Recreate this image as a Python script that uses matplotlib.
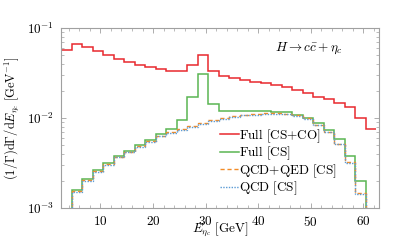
import numpy as np
import matplotlib
matplotlib.use('Agg')
import matplotlib.pyplot as plt
from matplotlib.ticker import MultipleLocator, FixedLocator

plt.rcParams['mathtext.fontset'] = 'cm'
plt.rcParams['font.family'] = 'serif'
plt.rcParams['font.serif'] = ['cmr10', 'DejaVu Serif']
plt.rcParams['axes.formatter.use_mathtext'] = True

# bin edges (GeV)
edges_full = np.arange(2.5, 62.6, 2.0)
edges_cs = np.arange(4.5, 60.6, 2.0)

# Full [CS+CO]
full_csco = [0.0568, 0.0674, 0.0618, 0.0553, 0.0508, 0.0458, 0.0420, 0.0392,
             0.0370, 0.0351, 0.0337, 0.0331, 0.0386, 0.0508, 0.0334, 0.0293,
             0.0278, 0.0264, 0.0251, 0.0248, 0.0234, 0.0219, 0.0206, 0.0190,
             0.0173, 0.0164, 0.0146, 0.0132, 0.0101, 0.00757]

# Full [CS]
full_cs = [0.00158, 0.00209, 0.00266, 0.00317, 0.00381, 0.00434, 0.00499,
           0.00575, 0.00665, 0.00757, 0.00962, 0.0170, 0.0312, 0.0144,
           0.0121, 0.0120, 0.0120, 0.0121, 0.0120, 0.0118, 0.0116, 0.0109,
           0.0101, 0.0088, 0.00745, 0.00582, 0.00381, 0.00200]

# QCD+QED [CS]
qcd_qed = [0.00155, 0.00205, 0.00259, 0.00310, 0.00372, 0.00423, 0.00487,
           0.00553, 0.00638, 0.00694, 0.00757, 0.00810, 0.00875, 0.00955,
           0.01005, 0.0105, 0.0109, 0.0111, 0.0113, 0.0114, 0.0112, 0.0107,
           0.0099, 0.00846, 0.00706, 0.00519, 0.00327, 0.00148]

# QCD [CS]
qcd = [0.00152, 0.00201, 0.00254, 0.00304, 0.00365, 0.00415, 0.00478,
       0.00542, 0.00625, 0.00680, 0.00742, 0.00794, 0.00858, 0.00936,
       0.00985, 0.0103, 0.0107, 0.0109, 0.0111, 0.0112, 0.0110, 0.0105,
       0.0097, 0.00829, 0.00692, 0.00509, 0.00320, 0.00145]

fig = plt.figure(figsize=(3.99, 2.40), dpi=100)
ax = fig.add_axes([0.153, 0.133, 0.797, 0.75])

ax.stairs(full_csco, edges_full, baseline=None, color='#e8282e', lw=1.1,
          label=r'$\mathrm{Full\ [CS{+}CO]}$')
ax.stairs(full_cs, edges_cs, baseline=1e-5, color='#5ab552', lw=1.1, label=r'$\mathrm{Full\ [CS]}$')
ax.stairs(qcd_qed, edges_cs, baseline=1e-5, color='#f28c28', lw=1.0, ls=(0, (3, 2)),
          label=r'$\mathrm{QCD{+}QED\ [CS]}$')
ax.stairs(qcd, edges_cs, baseline=1e-5, color='#5b9bd5', lw=1.0, ls=(0, (1, 1)),
          label=r'$\mathrm{QCD\ [CS]}$')

ax.set_yscale('log')
ax.set_xlim(2.5, 63)
ax.set_ylim(1e-3, 1e-1)

ax.xaxis.set_major_locator(FixedLocator([10, 20, 30, 40, 50, 60]))
ax.xaxis.set_minor_locator(MultipleLocator(2))
ax.set_xticklabels([r'$10$', r'$20$', r'$30$', r'$40$', r'$50$', r'$60$'])

for s in ax.spines.values():
    s.set_color('#a0a0a0')
    s.set_linewidth(0.8)
ax.tick_params(which='both', direction='in', top=True, right=True, color='#a0a0a0',
               labelsize=9.5)
ax.tick_params(which='major', length=3.5, width=0.6)
ax.tick_params(which='minor', length=2, width=0.5)
ax.tick_params(axis='x', pad=5)
ax.tick_params(axis='y', pad=5)

ax.set_xlabel(r'$E_{\eta_c}\ [\mathrm{GeV}]$', fontsize=9.5, labelpad=-6)
ax.set_ylabel(r'$(1/\Gamma)\mathrm{d}\Gamma/\mathrm{d}E_{\eta_c}\ [\mathrm{GeV}^{-1}]$',
              fontsize=9, labelpad=4)

ax.text(0.672, 0.885, r'$H \to c\bar{c} + \eta_c$', transform=ax.transAxes,
        fontsize=9.5, va='center', ha='left')

ax.legend(loc='lower left', bbox_to_anchor=(0.5, 0.06), frameon=False, fontsize=9.5,
          handlelength=1.4, handletextpad=0.0, labelspacing=0.0,
          borderpad=0, borderaxespad=0)

fig.savefig('out.png', dpi=100)
